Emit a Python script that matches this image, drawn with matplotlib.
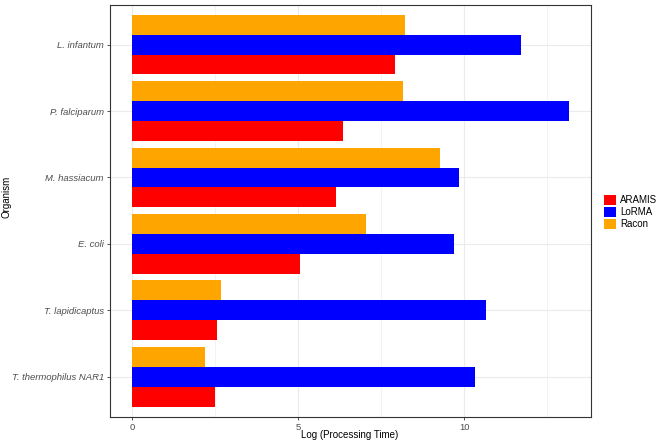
import matplotlib
matplotlib.use('Agg')
import matplotlib.pyplot as plt
import matplotlib.patches as mpatches
import numpy as np

plt.rcParams['font.family'] = ['Liberation Sans', 'DejaVu Sans']

# ── data ─────────────────────────────────────────────────────────────────────
organisms = ['L. infantum', 'P. falciparum', 'M. hassiacum', 'E. coli',
             'T. lapidicaptus', 'T. thermophilus NAR1']
aramis = [7.91, 6.35, 6.15, 5.05, 2.56, 2.49]
lorma = [11.72, 13.16, 9.86, 9.68, 10.67, 10.32]
racon = [8.23, 8.17, 9.27, 7.05, 2.67, 2.19]

methods = ['ARAMIS', 'LoRMA', 'Racon']
colors = {'ARAMIS': '#FF0000', 'LoRMA': '#0000FF', 'Racon': '#FFA500'}
series = {'ARAMIS': aramis, 'LoRMA': lorma, 'Racon': racon}

# ── figure ───────────────────────────────────────────────────────────────────
fig = plt.figure(figsize=(6.66, 4.44), dpi=100)
fig.patch.set_facecolor('white')
ax = fig.add_axes([110/666, 1 - 416.7/444, (591 - 110)/666, (416.7 - 4.7)/444])

n = len(organisms)
ypos = np.arange(n)[::-1] + 1          # top organism highest
h = 0.3
offsets = {'ARAMIS': -h, 'LoRMA': 0.0, 'Racon': h}
for m in methods:
    ax.barh(ypos + offsets[m], series[m], height=h, color=colors[m],
            linewidth=0, zorder=3)

xmax = max(max(aramis), max(lorma), max(racon))
pad = 0.05 * xmax
ax.set_xlim(-pad, xmax + pad)
ax.set_ylim(0.4, n + 0.6)

ax.set_xticks([0, 5, 10])
ax.set_xticks([2.5, 7.5, 12.5], minor=True)
ax.set_yticks(ypos)
ax.set_yticklabels(organisms, fontstyle='italic')

# theme_bw look
ax.grid(True, which='major', color='#EBEBEB', lw=0.8, zorder=0)
ax.grid(True, which='minor', axis='x', color='#EBEBEB', lw=0.4, zorder=0)
ax.set_axisbelow(True)
for s in ax.spines.values():
    s.set_color('#333333')
    s.set_linewidth(0.8)
ax.tick_params(which='major', length=2.5, width=0.6, color='#333333',
               labelsize=6.8, labelcolor='#4D4D4D', pad=2)
ax.tick_params(which='minor', length=0)

# axis titles placed by hand so they stay inside the canvas
fig.text(350/666, 1 - 434.5/444, 'Log (Processing Time)', fontsize=7,
         ha='center', va='center')
fig.text(7/666, 1 - 197/444, 'Organism', fontsize=7, rotation=90,
         ha='center', va='center')

handles = [mpatches.Patch(facecolor=colors[m], edgecolor='none', label=m)
           for m in methods]
fig.legend(handles=handles, loc='center left',
           bbox_to_anchor=(600/666, 1 - 212/444), frameon=False,
           fontsize=7, handlelength=1.2, handleheight=1.2,
           handletextpad=0.5, labelspacing=0.15, borderaxespad=0)

plt.savefig('out.png', dpi=100, facecolor='white')
plt.close()
